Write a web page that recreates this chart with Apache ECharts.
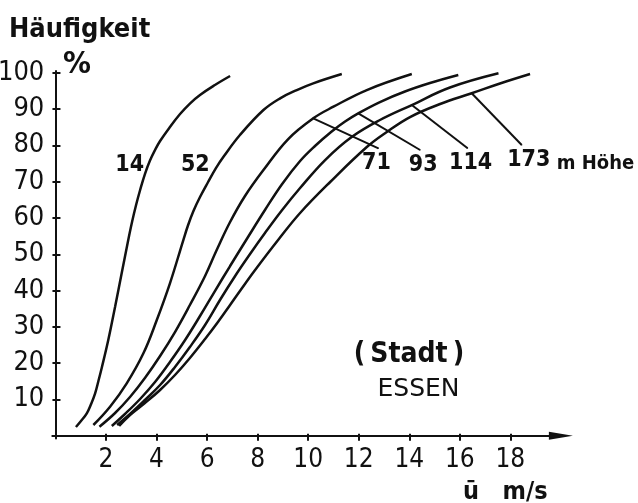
<!DOCTYPE html>
<html>
<head>
<meta charset="utf-8">
<script src="https://cdn.jsdelivr.net/npm/echarts@6/dist/echarts.min.js"></script>
<style>
  html, body { margin: 0; padding: 0; background: #fff; }
  #chart { width: 638px; height: 503px; }
</style>
</head>
<body>
<div id="chart"></div>
<script>
// Häufigkeitsverteilung der mittleren Windgeschwindigkeit ū (m/s) in Essen (Stadt)
// für verschiedene Messhöhen. Each curve: [ū in m/s, Häufigkeit in %].
const curve14 = [[0.81,2.40],[1.01,4.05],[1.24,6.17],[1.41,8.74],[1.57,11.69],[1.70,15.08],[1.83,18.66],[2.09,26.38],[2.36,35.56],[2.62,44.76],[2.88,53.94],[3.03,58.90],[3.19,63.59],[3.35,67.72],[3.54,72.13],[3.74,75.85],[3.94,78.75],[4.14,81.23],[4.53,85.09],[4.93,88.67],[5.32,91.56],[5.72,93.91],[6.31,96.66],[6.91,99.14]];
const curve52 = [[1.50,2.95],[2.16,7.99],[2.82,14.44],[3.48,22.71],[4.01,31.89],[4.53,42.00],[5.06,53.94],[5.25,58.07],[5.46,61.93],[5.72,65.79],[6.04,69.93],[6.35,73.78],[6.67,77.09],[7.30,82.88],[8.23,89.77],[8.89,93.00],[9.55,95.28],[10.20,97.13],[11.33,99.69]];
const curve71 = [[1.74,2.48],[2.36,6.26],[2.95,10.67],[3.54,15.90],[4.14,21.97],[4.73,28.58],[5.32,36.02],[5.92,44.02],[6.38,51.18],[6.91,58.90],[7.50,66.07],[8.23,73.23],[9.21,81.78],[10.20,87.48],[11.00,90.68],[12.32,95.28],[14.10,99.69]];
const curve93 = [[2.23,2.67],[2.75,5.98],[3.35,10.12],[3.94,14.80],[4.53,20.31],[5.13,26.38],[5.72,32.99],[6.31,39.88],[6.91,46.77],[7.62,54.77],[8.29,62.21],[8.97,69.38],[9.68,75.71],[10.27,79.85],[10.93,83.85],[11.46,86.60],[11.98,88.86],[12.84,91.98],[13.83,94.87],[14.82,97.21],[15.94,99.42]];
const curve114 = [[2.44,2.95],[2.95,5.98],[3.54,9.84],[4.14,13.97],[4.73,18.94],[5.32,24.45],[5.92,30.51],[6.51,37.40],[7.11,44.02],[7.70,50.08],[8.29,55.87],[8.97,62.21],[9.68,68.27],[10.67,75.99],[11.72,82.33],[12.84,87.02],[14.10,91.15],[15.61,95.97],[17.53,99.89]];
const curve173 = [[2.52,2.67],[2.95,5.71],[3.54,9.01],[4.14,12.60],[4.73,16.73],[5.32,21.42],[5.92,26.65],[6.43,31.34],[6.91,36.02],[7.30,39.88],[7.90,45.67],[8.81,53.94],[9.68,61.38],[10.87,69.93],[12.32,79.57],[13.11,83.71],[14.03,87.84],[15.22,91.43],[16.47,94.38],[17.59,97.08],[18.78,99.69]];

// Hinweislinien von der Kurve zur Höhenangabe
const leader71 = [[10.20,87.48],[12.78,79.22]];
const leader93 = [[11.98,88.86],[14.43,78.75]];
const leader114 = [[14.10,91.15],[16.31,79.22]];
const leader173 = [[16.47,94.38],[18.45,80.12]];

const xTicks = [2, 4, 6, 8, 10, 12, 14, 16, 18];
const yTicks = [10, 20, 30, 40, 50, 60, 70, 80, 90, 100];

const NARROW = "'Noto Sans Condensed','Noto Sans ExtraCondensed','DejaVu Sans Condensed',sans-serif";
const COND = "'DejaVu Sans Condensed',sans-serif";
const BLACK = '#111';

const X_MIN = -0.125, X_MAX = 20;
const Y_MIN = -0.77, Y_MAX = 100.5;

function curveSeries(data) {
  return {
    type: 'line', data: data, showSymbol: false, smooth: 0.4,
    lineStyle: { color: BLACK, width: 2.5 }, silent: true, z: 3
  };
}

function leaderSeries(pts, text, dx) {
  return {
    type: 'line', silent: true, z: 3,
    symbol: 'circle', symbolSize: 1, showSymbol: true,
    itemStyle: { color: BLACK },
    lineStyle: { color: BLACK, width: 2 },
    data: [
      pts[0],
      { value: pts[1], label: {
          show: true, formatter: text, position: 'bottom', distance: 3, offset: [dx, 0],
          color: BLACK, fontFamily: NARROW, fontWeight: 'bold', fontSize: 23 } }
    ]
  };
}

const chart = echarts.init(document.getElementById('chart'), null, { renderer: 'canvas' });

chart.setOption({
  animation: false,
  backgroundColor: '#fff',
  grid: { left: 52.3, right: 77.1, top: 71.1, bottom: 64.5, containLabel: false, outerBoundsMode: 'none' },
  xAxis: [
    {
      type: 'value', min: X_MIN, max: X_MAX,
      axisLine: { show: true, lineStyle: { color: BLACK, width: 2 },
                  symbol: ['none', 'triangle'], symbolSize: [8, 24] },
      axisTick: { show: true, customValues: xTicks, length: 5, lineStyle: { color: BLACK, width: 2 } },
      axisLabel: { customValues: xTicks, margin: 9, color: BLACK, fontSize: 26, fontFamily: NARROW },
      splitLine: { show: false }
    },
    {
      type: 'value', min: X_MIN, max: X_MAX, position: 'bottom',
      axisLine: { show: false },
      axisTick: { show: true, inside: true, customValues: xTicks, length: 2, lineStyle: { color: BLACK, width: 2 } },
      axisLabel: { show: false }, splitLine: { show: false }
    }
  ],
  yAxis: [
    {
      type: 'value', min: Y_MIN, max: Y_MAX,
      axisLine: { show: true, lineStyle: { color: BLACK, width: 2 } },
      axisTick: { show: true, inside: true, customValues: yTicks, length: 5, lineStyle: { color: BLACK, width: 2 } },
      axisLabel: { customValues: yTicks, margin: 8, color: BLACK, fontSize: 27, fontFamily: NARROW },
      splitLine: { show: false }
    },
    {
      type: 'value', min: Y_MIN, max: Y_MAX, position: 'left',
      axisLine: { show: false },
      axisTick: { show: true, inside: false, customValues: yTicks, length: 3, lineStyle: { color: BLACK, width: 2 } },
      axisLabel: { show: false }, splitLine: { show: false }
    }
  ],
  series: [
    curveSeries(curve14),
    curveSeries(curve52),
    curveSeries(curve71),
    curveSeries(curve93),
    curveSeries(curve114),
    curveSeries(curve173),
    leaderSeries(leader71, '71', -2),
    leaderSeries(leader93, '93', 3),
    leaderSeries(leader114, '114', 3),
    leaderSeries(leader173, '173', 7)
  ],
  graphic: [
    { type: 'text', x: 9, y: 30, style: { text: 'Häufigkeit', font: 'bold 27px ' + COND, fill: BLACK, align: 'left', verticalAlign: 'middle' } },
    { type: 'text', x: 77, y: 65, style: { text: '%', font: 'bold 31px ' + COND, fill: BLACK, align: 'center', verticalAlign: 'middle' } },
    { type: 'text', x: 129.7, y: 165, style: { text: '14', font: 'bold 23px ' + NARROW, fill: BLACK, align: 'center', verticalAlign: 'middle' } },
    { type: 'text', x: 195.3, y: 165, style: { text: '52', font: 'bold 23px ' + NARROW, fill: BLACK, align: 'center', verticalAlign: 'middle' } },
    { type: 'text', x: 556.7, y: 163.5, style: { text: 'm Höhe', font: 'bold 20px ' + COND, fill: BLACK, align: 'left', verticalAlign: 'middle' } },
    { type: 'text', x: 409, y: 355, style: { text: '(\u2009Stadt\u2009)', font: 'bold 28px ' + COND, fill: BLACK, align: 'center', verticalAlign: 'middle' } },
    { type: 'text', x: 418.5, y: 389.5, style: { text: 'ESSEN', font: '25px "DejaVu Sans", sans-serif', fill: BLACK, align: 'center', verticalAlign: 'middle' } },
    { type: 'text', x: 463, y: 492, style: { text: 'ū   m/s', font: 'bold 25px ' + COND, fill: BLACK, align: 'left', verticalAlign: 'middle' } }
  ]
});
</script>
</body>
</html>
